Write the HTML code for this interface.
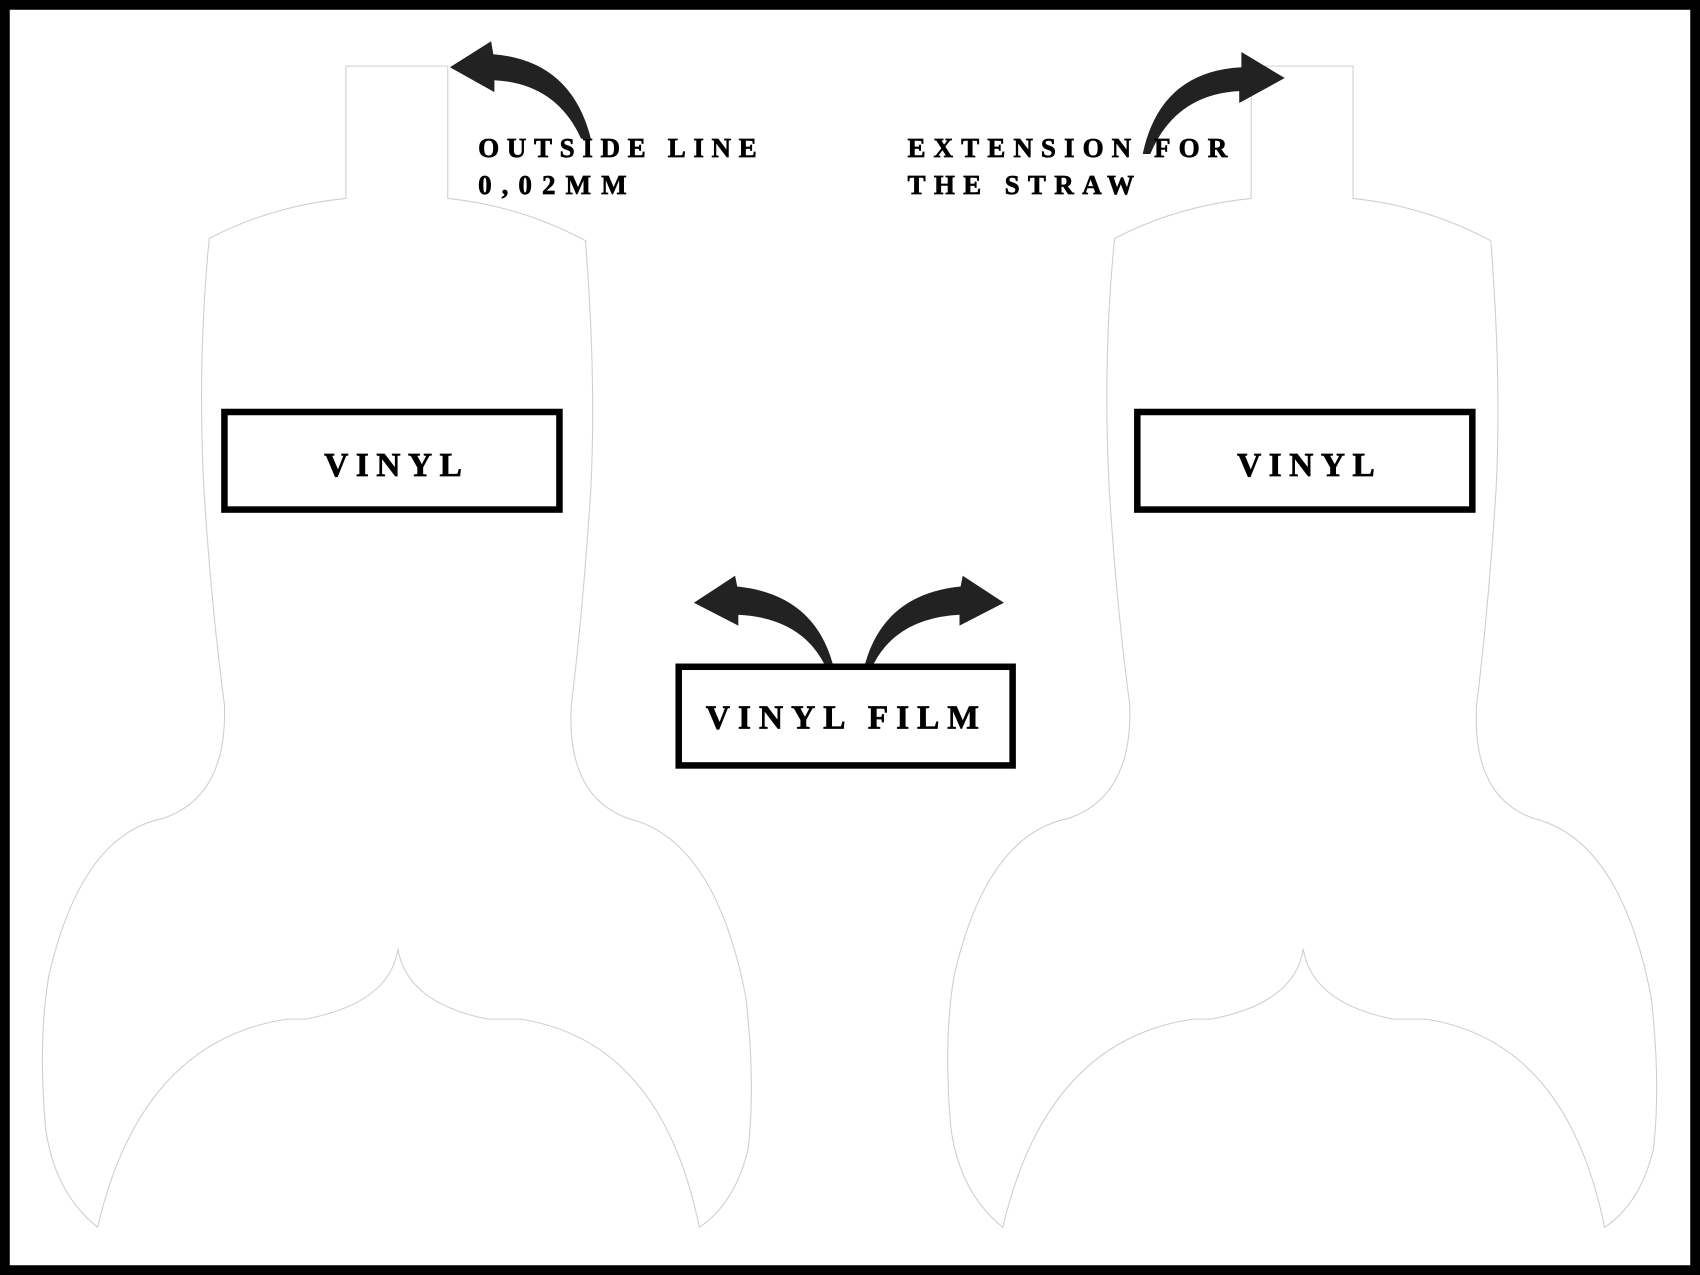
<!DOCTYPE html>
<html><head><meta charset="utf-8"><style>
html,body{margin:0;padding:0;background:#fff;}
svg{display:block;}
</style></head><body>
<svg width="1700" height="1275" viewBox="0 0 1568 1176" preserveAspectRatio="none" xmlns="http://www.w3.org/2000/svg">
<rect x="0" y="0" width="1568" height="1176" fill="#000"/>
<rect x="9" y="9" width="1550" height="1158" fill="#fff"/>
<defs>
<g id="bottle">
<path d="M319,183 L319,61 L413,61 L413,183 Q480,190 540,222 Q550,350 545,450 Q538,560 527,650 Q522,735 580,755 Q660,775 688,920 Q697,1000 690,1060 Q678,1110 645,1132 Q610,960 480,940 L450,940 Q375,925 367,875 Q360,925 282,940 L265,940 Q130,960 90,1132 Q50,1100 42,1040 Q35,960 45,900 Q75,770 150,755 Q210,735 207,650 Q195,560 188,450 Q182,330 193,220 Q250,190 319,183 Z" fill="none" stroke="#cfcfcf" stroke-width="1"/>
</g>
</defs>
<use href="#bottle"/>
<use href="#bottle" transform="translate(835,0)"/>
<g fill="#222">
<path d="M545,128 Q527,56 455,50 L453,38 L415,62 L456,85 L456,74 Q513,77 536,128 Z"/>
<path d="M1054,142 Q1070,66 1145,62 L1145,48 L1185,72 L1143,95 L1143,84 Q1084,87 1061,142 Z"/>
<path d="M768,612 Q750,548 680,541 L678,531 L640,556 L681,577 L681,567 Q738,570 760,612 Z"/>
<path d="M798,612 Q816,548 886,541 L888,531 L926,556 L885,577 L885,567 Q828,570 806,612 Z"/>
</g>
<g fill="none" stroke="#000" stroke-width="6">
<rect x="207" y="380" width="309" height="90"/>
<rect x="1049" y="380" width="309" height="90"/>
<rect x="626" y="615" width="308" height="91"/>
</g>
<g font-family="'Liberation Serif',serif" font-weight="bold" fill="#000" stroke="#000" stroke-width="0.6" lengthAdjust="spacing">
<text x="299" y="439" font-size="31" textLength="127" lengthAdjust="spacing">VINYL</text>
<text x="1141" y="439" font-size="31" textLength="127" lengthAdjust="spacing">VINYL</text>
<text x="651" y="672" font-size="31" textLength="252" lengthAdjust="spacing">VINYL FILM</text>
<text x="441" y="145" font-size="25" textLength="257" lengthAdjust="spacing">OUTSIDE LINE</text>
<text x="441" y="179" font-size="25" textLength="137" lengthAdjust="spacing">0,02MM</text>
<text x="837" y="145" font-size="25" textLength="295" lengthAdjust="spacing">EXTENSION FOR</text>
<text x="837" y="179" font-size="25" textLength="209" lengthAdjust="spacing">THE STRAW</text>
</g>
</svg>
</body></html>
